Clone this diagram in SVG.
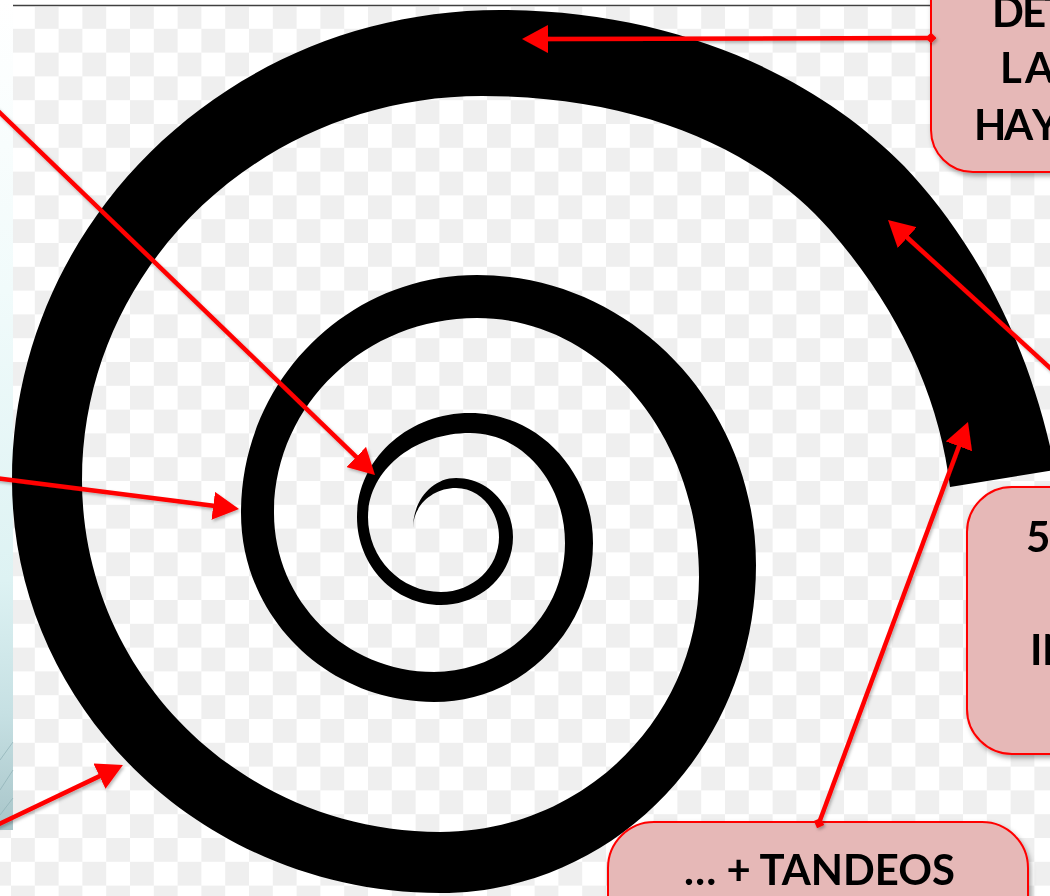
<svg xmlns="http://www.w3.org/2000/svg" width="1050" height="896" viewBox="0 0 1050 896">
<defs>
<pattern id="chk" patternUnits="userSpaceOnUse" x="11" y="5" width="47.6" height="47.6">
<rect width="47.6" height="47.6" fill="#ffffff"/>
<rect x="23.8" y="0" width="23.8" height="23.8" fill="#efefef"/>
<rect x="0" y="23.8" width="23.8" height="23.8" fill="#efefef"/>
</pattern>
<linearGradient id="strip" x1="0" y1="0" x2="0" y2="1">
<stop offset="0" stop-color="#ffffff"/>
<stop offset="0.35" stop-color="#f1fbfb"/>
<stop offset="0.7" stop-color="#ddf2f3"/>
<stop offset="0.86" stop-color="#c6e0e3"/>
<stop offset="1" stop-color="#a8c5c9"/>
</linearGradient>
<filter id="shadow" x="-20%" y="-20%" width="140%" height="140%">
<feDropShadow dx="2" dy="3" stdDeviation="2.5" flood-color="#000" flood-opacity="0.35"/>
</filter>
<filter id="lshadow" x="-5%" y="-5%" width="110%" height="110%">
<feDropShadow dx="1.5" dy="2" stdDeviation="1.5" flood-color="#000" flood-opacity="0.28"/>
</filter>
<marker id="arrow" markerUnits="userSpaceOnUse" viewBox="0 0 26 28" markerWidth="26" markerHeight="28" refX="6" refY="14" orient="auto">
<path d="M0,0 L26,14 L0,28 Z" fill="#ff0000"/>
</marker>
<marker id="diamond" markerUnits="userSpaceOnUse" viewBox="0 0 11 11" markerWidth="11" markerHeight="11" refX="5.5" refY="5.5" orient="auto">
<path d="M0,5.5 L5.5,0 L11,5.5 L5.5,11 Z" fill="#ff0000"/>
</marker>
<style>
.box { fill: #e6b8b7; stroke: #ff0000; stroke-width: 2; }
.lbl { font-family: "Lato", "Liberation Sans", sans-serif; font-weight: bold; font-size: 42px; fill: #000000; }
.conn { stroke: #ff0000; stroke-width: 4.5; fill: none; }
</style>
</defs>

<g id="background">
<rect x="0" y="0" width="1050" height="896" fill="#ffffff"/>
<rect x="0" y="7" width="1050" height="889" fill="url(#chk)"/>
<rect x="0" y="0" width="13" height="830" fill="url(#strip)"/>
<g stroke="#8fb1b6" stroke-width="1" opacity="0.7">
<line x1="0" y1="760" x2="13" y2="742"/>
<line x1="0" y1="790" x2="13" y2="770"/>
<line x1="0" y1="815" x2="13" y2="798"/>
</g>
<line x1="13" y1="5.5" x2="931" y2="5.5" stroke="#404040" stroke-width="1.5"/>
</g>

<g id="spiral">
<path fill="#000000" d="M 413 528
C 413 500.4 432.3 478 456 478
C 487.5 478 513 504.4 513 537
C 513 574.6 480.8 605 441 605
C 394.6 605 357 565.6 357 517
C 357 459.6 407.6 413 470 413
C 537.9 413 593 471.2 593 543
C 593 630.8 521.8 702 434 702
C 327.4 702 241 617.4 241 513
C 241 381.6 346.7 275 477 275
C 631.1 275 756 404.8 756 565
C 756 746.2 614.5 893 440 893
C 203.6 893 12 708.1 12 480
C 12 220.4 230.5 10 500 10
C 680 10 820 80 904 166
C 970 235 1030 340 1055 470
L 950 487
C 940 400 900 310 830 230
C 760 150 640 96 482 96
C 261.1 96 82 267.9 82 480
C 82 674.4 242.3 832 440 832
C 583 832 699 717.8 699 577
C 699 434 599.6 318 477 318
C 364.9 318 274 405.3 274 513
C 274 600.8 345.6 672 434 672
C 506.4 672 565 614.2 565 543
C 565 482.2 522.5 433 470 433
C 413.7 433 368 470.6 368 517
C 368 558.4 400.7 592 441 592
C 473 592 499 567.4 499 537
C 499 509.9 479.7 488 456 488
C 432.3 488 413 505.9 413 528 Z"/>
</g>

<g id="node-top-right" filter="url(#shadow)">
<rect class="box" x="931" y="-60" width="200" height="232" rx="42" ry="42"/>
<text class="lbl" x="992 1022 1044" y="27">DET</text>
<text class="lbl" x="1000 1025" y="83">LA</text>
<text class="lbl" x="974 1004 1032" y="140">HAY</text>
</g>

<g id="node-right" filter="url(#shadow)">
<rect class="box" x="967" y="487" width="150" height="267" rx="45" ry="45"/>
<text class="lbl" x="1026" y="552">5</text>
<text class="lbl" x="1030 1042" y="665">IN</text>
</g>

<g id="node-bottom" filter="url(#shadow)">
<rect class="box" x="608" y="822" width="420" height="150" rx="46" ry="46"/>
<text class="lbl" x="684" y="885" textLength="271" lengthAdjust="spacingAndGlyphs">… + TANDEOS</text>
</g>

<g id="connectors" filter="url(#lshadow)">
<line class="conn" x1="931" y1="38" x2="542" y2="39" marker-start="url(#diamond)" marker-end="url(#arrow)"/>
<line class="conn" x1="-5" y1="108" x2="360.6" y2="461.1" marker-end="url(#arrow)"/>
<line class="conn" x1="-5" y1="478" x2="219.2" y2="506.5" marker-end="url(#arrow)"/>
<line class="conn" x1="-5" y1="826" x2="104.9" y2="773.6" marker-end="url(#arrow)"/>
<line class="conn" x1="1060" y1="377" x2="902.8" y2="233.5" marker-end="url(#arrow)"/>
<line class="conn" x1="819" y1="823" x2="961" y2="440.7" marker-start="url(#diamond)" marker-end="url(#arrow)"/>
</g>
</svg>
